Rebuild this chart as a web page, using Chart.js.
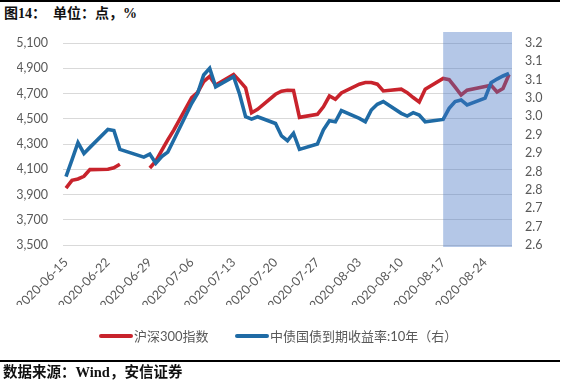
<!DOCTYPE html>
<html><head><meta charset="utf-8">
<script src="https://cdn.jsdelivr.net/npm/chart.js@4.4.1/dist/chart.umd.min.js"></script>
<style>
html,body{margin:0;padding:0;background:#fff;}
body{width:570px;height:385px;position:relative;overflow:hidden;}
#wrap{position:absolute;left:0;top:0;width:570px;height:385px;}
.rule{position:absolute;left:0;width:560px;height:2px;background:#000;}
#title{position:absolute;left:4px;top:6px;font-weight:bold;font-size:14px;font-family:"Liberation Serif","Noto Sans CJK SC",serif;color:#111;line-height:16px;white-space:pre;}
#footer{position:absolute;left:3px;top:364px;font-weight:bold;font-size:14.5px;font-family:"Liberation Serif","Noto Sans CJK SC",serif;color:#111;line-height:17px;white-space:pre;}
#legend{position:absolute;left:0;top:327px;width:570px;height:17px;font-size:13px;font-family:Lato,"Noto Sans CJK SC",sans-serif;color:#595959;}
.item{position:absolute;top:0;height:17px;display:flex;align-items:center;white-space:nowrap;}
.sw{width:34px;height:4px;border-radius:2px;margin-right:1px;}
</style>
</head><body>
<div class="rule" style="top:0px"></div>
<div id="title">图14：  单位：点，%</div>
<div id="wrap"><canvas id="c" width="570" height="385"></canvas></div>
<div id="legend"></div>
<div class="rule" style="top:360px"></div>
<div id="footer">数据来源：Wind，安信证券</div>
<script>
const dates = [
 '2020-06-15','2020-06-16','2020-06-17','2020-06-18','2020-06-19','2020-06-22','2020-06-23','2020-06-24','2020-06-28','2020-06-29','2020-06-30',
 '2020-07-01','2020-07-02','2020-07-03','2020-07-06','2020-07-07','2020-07-08','2020-07-09','2020-07-10','2020-07-13','2020-07-14','2020-07-15','2020-07-16','2020-07-17','2020-07-20','2020-07-21','2020-07-22','2020-07-23','2020-07-24','2020-07-27','2020-07-28','2020-07-29','2020-07-30','2020-07-31',
 '2020-08-03','2020-08-04','2020-08-05','2020-08-06','2020-08-07','2020-08-10','2020-08-11','2020-08-12','2020-08-13','2020-08-14','2020-08-17','2020-08-18','2020-08-19','2020-08-20','2020-08-21','2020-08-24','2020-08-25','2020-08-26','2020-08-27','2020-08-28'
];
const hs300 = [
 3951,4012,4023,4044,4097,4100,4112,4140,null,4110,4164,
 4250,4332,4410,4668,4710,4795,4835,4766,4850,4800,4745,4548,4575,4694,4718,4726,4724,4511,4535,4595,4680,4654,4704,
 4774,4787,4787,4774,4720,4734,4707,4668,4633,4734,4819,4810,4750,4688,4726,4755,4765,4712,4739,4850
];
const cgb10y = [
 2.803,2.853,2.904,2.872,2.890,2.943,2.940,2.884,2.861,2.870,2.843,
 2.863,2.876,2.912,3.021,3.051,3.105,3.125,3.070,3.100,3.048,2.981,2.974,2.981,2.961,2.924,2.910,2.932,2.884,2.900,2.942,2.969,2.966,2.999,
 2.976,2.966,3.001,3.018,3.026,2.991,2.983,2.993,2.986,2.966,2.973,3.006,3.026,3.031,3.016,3.036,3.082,3.093,3.102,3.110
];
const seriesNames = ['沪深300指数','中债国债到期收益率:10年（右）'];
const xTickLabels = ['2020-06-15','2020-06-22','2020-06-29','2020-07-06','2020-07-13','2020-07-20','2020-07-27','2020-08-03','2020-08-10','2020-08-17','2020-08-24'];
const leftTickLabels = ['3,500','3,700','3,900','4,100','4,300','4,500','4,700','4,900','5,100'];
const rightTickLabels = ['2.6','2.7','2.7','2.8','2.8','2.9','2.9','3.0','3.0','3.1','3.1','3.2'];
const rightMin = 2.6, rightMax = 3.2;
const axisStart = '2020-06-15', axisEnd = '2020-08-28';
const shadeFrom = '2020-08-17';

const DAY = 86400000;
const day0 = Date.parse(axisStart + 'T00:00:00Z');
const toDay = s => Math.round((Date.parse(s + 'T00:00:00Z') - day0) / DAY);
const leftVals = leftTickLabels.map(l => parseFloat(l.replace(/,/g, '')));

const RED = '#C8232C', BLUE = '#1F6BA5';
const tickFont = {family: 'Lato, "Noto Sans CJK SC", sans-serif', size: 12.5};
const tickColor = '#595959';

const shadePlugin = {
  id: 'shade',
  afterDatasetsDraw(chart) {
    const {ctx, chartArea, scales} = chart;
    const x0 = scales.x.getPixelForValue(toDay(shadeFrom));
    ctx.save();
    ctx.fillStyle = 'rgba(68,114,196,0.4)';
    ctx.fillRect(x0, chartArea.top - 11, chartArea.right - x0, chartArea.bottom - chartArea.top + 13);
    ctx.restore();
  }
};

const chart = new Chart(document.getElementById('c'), {
  type: 'line',
  data: {
    datasets: [
      {label: seriesNames[0], data: dates.map((d, i) => ({x: toDay(d), y: hs300[i]})), yAxisID: 'y',
       borderColor: RED, backgroundColor: RED, borderWidth: 3.6, pointRadius: 0, tension: 0, order: 1, spanGaps: false},
      {label: seriesNames[1], data: dates.map((d, i) => ({x: toDay(d), y: cgb10y[i]})), yAxisID: 'y2',
       borderColor: BLUE, backgroundColor: BLUE, borderWidth: 3.6, pointRadius: 0, tension: 0, order: 0, spanGaps: false}
    ]
  },
  options: {
    responsive: false, animation: false, devicePixelRatio: 1,
    layout: {padding: {left: 17, right: 13, top: 43, bottom: 80}},
    plugins: {legend: {display: false}, tooltip: {enabled: false}},
    scales: {
      x: {
        type: 'linear', min: toDay(axisStart) - 0.5, max: toDay(axisEnd) + 0.5,
        afterBuildTicks: s => { s.ticks = xTickLabels.map(l => ({value: toDay(l)})); },
        afterFit: s => { s.height = 60; },
        ticks: {callback: (v, i) => xTickLabels[i], minRotation: 45, maxRotation: 45, autoSkip: false,
                color: tickColor, font: tickFont, padding: 2},
        grid: {display: false}, border: {display: false}
      },
      y: {
        position: 'left', min: leftVals[0], max: leftVals[leftVals.length - 1],
        afterBuildTicks: s => { s.ticks = leftVals.map(v => ({value: v})); },
        afterFit: s => { s.width = 46; },
        ticks: {callback: (v, i) => leftTickLabels[i], color: tickColor, font: tickFont, padding: 15},
        grid: {color: '#D9D9D9', lineWidth: 1, drawTicks: false}, border: {display: false}
      },
      y2: {
        position: 'right', min: rightMin, max: rightMax,
        afterBuildTicks: s => { const n = rightTickLabels.length; s.ticks = rightTickLabels.map((l, i) => ({value: rightMin + i * (rightMax - rightMin) / (n - 1)})); },
        afterFit: s => { s.width = 45; },
        ticks: {callback: (v, i) => rightTickLabels[i], color: tickColor, font: tickFont, padding: 13},
        grid: {display: false, drawTicks: false}, border: {display: false}
      }
    }
  },
  plugins: [shadePlugin]
});

const legendLefts = [99, 235];
const lg = document.getElementById('legend');
chart.data.datasets.forEach((ds, i) => {
  const it = document.createElement('div');
  it.className = 'item';
  it.style.left = legendLefts[i] + 'px';
  const sw = document.createElement('span');
  sw.className = 'sw';
  sw.style.background = ds.borderColor;
  const tx = document.createElement('span');
  tx.textContent = ds.label;
  it.appendChild(sw); it.appendChild(tx);
  lg.appendChild(it);
});
</script>
</body></html>
